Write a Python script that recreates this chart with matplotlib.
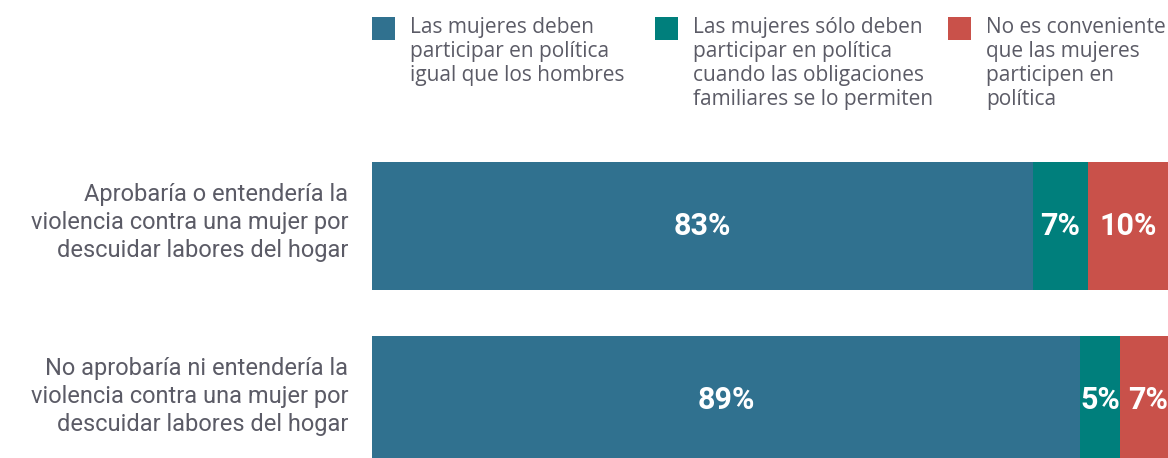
import matplotlib.pyplot as plt
from matplotlib.patches import Rectangle

# answers by group (percent)
groups = [
    "Aprobaría o entendería la\nviolencia contra una mujer por\ndescuidar labores del hogar",
    "No aprobaría ni entendería la\nviolencia contra una mujer por\ndescuidar labores del hogar",
]
series_names = [
    "Las mujeres deben\nparticipar en política\nigual que los hombres",
    "Las mujeres sólo deben\nparticipar en política\ncuando las obligaciones\nfamiliares se lo permiten",
    "No es conveniente\nque las mujeres\nparticipen en\npolítica",
]
igual = [83, 89]
solo_si = [7, 5]
no_conv = [10, 7]

colors = ["#30718f", "#007f7c", "#c9514a"]
text_gray = "#5b5b66"

W, H = 1168, 458
fig = plt.figure(figsize=(W / 100, H / 100), dpi=100)

# axes placed in pixel terms: bars run from x=372 to the right edge, y=162 down to 464
ax = fig.add_axes([372 / W, -6 / H, 796 / W, 302 / H])
bar_h = 128 / 174
ax.set_xlim(0, 100)
ax.set_ylim(1 + bar_h / 2, -bar_h / 2)
ax.axis("off")

left = [0] * len(groups)
for vals, col in zip([igual, solo_si, no_conv], colors):
    ax.barh(range(len(groups)), vals, left=left, height=bar_h, color=col, linewidth=0)
    for i, v in enumerate(vals):
        ax.text(left[i] + v / 2, i, f"{v}%", ha="center", va="center",
                color="white", fontsize=22, fontweight="bold", family="Roboto")
    left = [l + v for l, v in zip(left, vals)]

for i, g in enumerate(groups):
    ax.text(-3, i - 0.02, g, ha="right", va="center", color=text_gray, fontsize=17,
            family="Roboto", linespacing=1.3)

# legend boxes with wrapped labels
leg_x = [372, 655, 948]
for x, name, col in zip(leg_x, series_names, colors):
    fig.add_artist(Rectangle((x / W, 1 - 40 / H), 23 / W, 23 / H,
                             transform=fig.transFigure, color=col, linewidth=0))
    fig.text((x + 38) / W, 1 - 17 / H, name, ha="left", va="top",
             color=text_gray, fontsize=15, family="Open Sans", linespacing=1.18)

fig.savefig("out.png", dpi=100)
